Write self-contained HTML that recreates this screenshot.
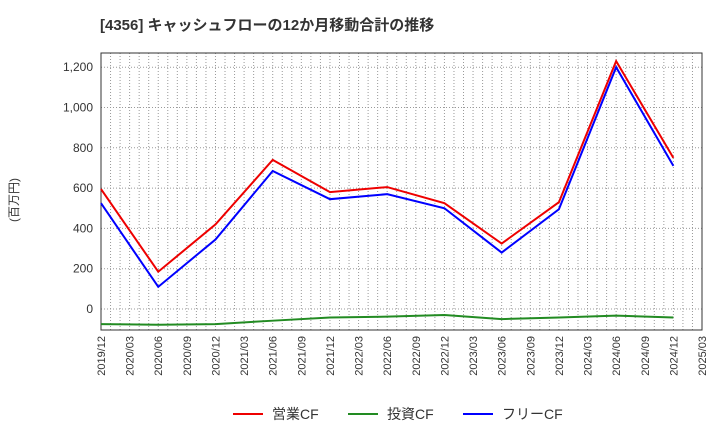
<!DOCTYPE html>
<html><head><meta charset="utf-8"><style>
body{margin:0;background:#fff;font-family:"Liberation Sans","Noto Sans CJK JP",sans-serif}
</style></head><body>
<svg id="c" width="720" height="440" xmlns="http://www.w3.org/2000/svg" font-family="Liberation Sans, Noto Sans CJK JP, sans-serif">
<text x="100" y="30" font-size="15" font-weight="bold" fill="#333">[4356]  キャッシュフローの12か月移動合計の推移</text>
<text transform="translate(18,200) rotate(-90)" font-size="12" fill="#333" text-anchor="middle">(百万円)</text>
<g id="grid"></g><g id="axes"></g><g id="series"></g>
<g>
<line x1="233" y1="414" x2="263" y2="414" stroke="#e00" stroke-width="2"/><text x="272" y="419" font-size="14" fill="#333">営業CF</text>
<line x1="348" y1="414" x2="378" y2="414" stroke="#228b22" stroke-width="2"/><text x="387" y="419" font-size="14" fill="#333">投資CF</text>
<line x1="463" y1="414" x2="493" y2="414" stroke="#00f" stroke-width="2"/><text x="502" y="419" font-size="14" fill="#333">フリーCF</text>
</g>
</svg>
<script>
const periods=["2019/12","2020/06","2020/12","2021/06","2021/12","2022/06","2022/12","2023/06","2023/12","2024/06","2024/12"];
const operatingCF=[595,185,420,740,580,605,525,325,530,1230,750];
const investingCF=[-75,-78,-75,-58,-42,-38,-30,-50,-42,-33,-42];
const freeCF=[525,110,345,685,545,570,500,280,495,1200,710];
const xTicks=["2019/12","2020/03","2020/06","2020/09","2020/12","2021/03","2021/06","2021/09","2021/12","2022/03","2022/06","2022/09","2022/12","2023/03","2023/06","2023/09","2023/12","2024/03","2024/06","2024/09","2024/12","2025/03"];
const yTicks=[0,200,400,600,800,1000,1200];
const L=101,R=702,T=53,B=330,NS="http://www.w3.org/2000/svg";
const months=s=>{const[a,b]=s.split("/").map(Number);return (a-2019)*12+b-12;};
const X=s=>L+months(s)*(R-L)/63;
const Y=v=>309-v*40.3/200;
function mk(t,a,p){const e=document.createElementNS(NS,t);for(const k in a)e.setAttribute(k,a[k]);p.appendChild(e);return e;}
const g=document.getElementById("grid"),ax=document.getElementById("axes"),se=document.getElementById("series");
for(let m=1;m<63;m++){const x=L+m*(R-L)/63;const l=mk("line",{x1:x,x2:x,y1:T,y2:B,stroke:"#999","stroke-dasharray":"1,2","stroke-width":1},g);

}
yTicks.forEach(v=>{const l=mk("line",{x1:L,x2:R,y1:Y(v),y2:Y(v),stroke:"#999","stroke-dasharray":"1,2"},g);


const t=mk("text",{x:L-8,y:Y(v)+4,"font-size":12,fill:"#333","text-anchor":"end"},ax);t.textContent=v.toLocaleString("en-US");

});
const fr=mk("rect",{x:L,y:T,width:R-L,height:B-T,fill:"none",stroke:"#333"},ax);


xTicks.forEach(s=>{const x=X(s);const t=mk("text",{transform:`translate(${x+4},${B+6}) rotate(-90)`,"font-size":11,fill:"#333","text-anchor":"end"},ax);t.textContent=s;

});
[[operatingCF,"#e00","operating-cf-line"],[investingCF,"#228b22","investing-cf-line"],[freeCF,"#00f","free-cf-line"]].forEach(([d,c,n])=>{
const p=mk("polyline",{points:d.map((v,i)=>X(periods[i])+","+Y(v)).join(" "),fill:"none",stroke:c,"stroke-width":2},se);

});
</script>
</body></html>
